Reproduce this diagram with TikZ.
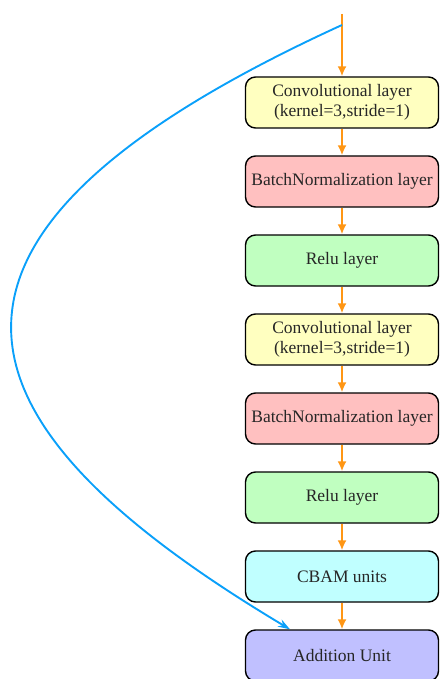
\documentclass[tikz,border=0pt]{standalone}
\usepackage{fontspec}
\setmainfont{Liberation Serif}
\usetikzlibrary{positioning,arrows.meta}
\definecolor{convc}{RGB}{255,255,192}
\definecolor{bnc}{RGB}{255,192,192}
\definecolor{reluc}{RGB}{192,255,192}
\definecolor{cbamc}{RGB}{192,255,255}
\definecolor{addc}{RGB}{192,192,255}
\definecolor{flowc}{RGB}{255,150,20}
\definecolor{skipc}{RGB}{10,160,250}
\begin{document}
\begin{tikzpicture}[x=1pt,y=1pt,line width=1.4pt,
  font=\fontsize{17.5}{20}\selectfont,node distance=26.6pt,
  layer/.style={draw,rounded corners=10pt,minimum width=193pt,
    minimum height=51pt,align=center,inner sep=2pt,text=black!85},
  flow/.style={draw=flowc,line width=1.8pt,-{Latex[length=10pt,width=9pt]}},
  skip/.style={draw=skipc,line width=1.9pt,-{Stealth[length=12pt,width=8pt]}}]
  \useasboundingbox (0,0) rectangle (439,-679);
  % main path
  \node[layer,fill=convc] (conv1) at (342,-102.5)
    {Convolutional layer\\(kernel=3,stride=1)};
  \node[layer,fill=bnc,below=of conv1] (bn1) {BatchNormalization layer};
  \node[layer,fill=reluc,below=of bn1] (relu1) {Relu layer};
  \node[layer,fill=convc,below=of relu1] (conv2)
    {Convolutional layer\\(kernel=3,stride=1)};
  \node[layer,fill=bnc,below=of conv2] (bn2) {BatchNormalization layer};
  \node[layer,fill=reluc,below=of bn2] (relu2) {Relu layer};
  \node[layer,fill=cbamc,below=of relu2] (cbam) {CBAM units};
  \node[layer,fill=addc,below=of cbam] (add) {Addition Unit};
  \coordinate (in) at (342,-14);
  \coordinate (split) at (342,-25);
  \draw[flow] (in) -- (conv1);
  \draw[flow] (conv1) -- (bn1);
  \draw[flow] (bn1) -- (relu1);
  \draw[flow] (relu1) -- (conv2);
  \draw[flow] (conv2) -- (bn2);
  \draw[flow] (bn2) -- (relu2);
  \draw[flow] (relu2) -- (cbam);
  \draw[flow] (cbam) -- (add);
  % shortcut
  \draw[skip] (split) .. controls +(-466,-213) and +(-345,206)
    .. ([xshift=-52pt]add.north);
\end{tikzpicture}
\end{document}
